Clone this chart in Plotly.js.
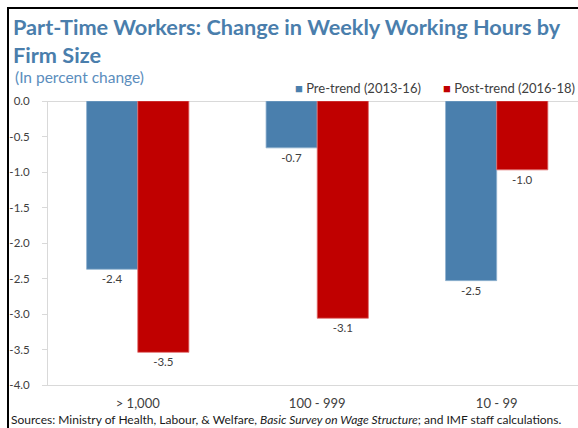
<!DOCTYPE html>
<html>
<head>
<meta charset="utf-8">
<script src="https://cdn.plot.ly/plotly-3.0.1.min.js"></script>
<style>
  html, body { margin: 0; padding: 0; background: #fff; overflow: hidden; }
  #wrap { position: relative; width: 578px; height: 428px; overflow: hidden; }
  #chart { position: absolute; left: 0; top: 0; width: 578px; height: 428px; }
  #frame { position: absolute; left: 7px; top: 7px; width: 700px; height: 600px;
           border-left: 2px solid #000; border-top: 2px solid #000; pointer-events: none; }
</style>
</head>
<body>
<div id="wrap">
  <div id="chart"></div>
  <div id="frame"></div>
</div>
<script>
// ---- data ----
const categories = ["> 1,000", "100 - 999", "10 - 99"];
const seriesNames = ["Pre-trend (2013-16)", "Post-trend (2016-18)"];
const preTrend  = [-2.37, -0.66, -2.53];
const postTrend = [-3.54, -3.06, -0.97];
const yTickVals = [0, -0.5, -1, -1.5, -2, -2.5, -3, -3.5, -4];
const yTickText = ["0.0", "-0.5", "-1.0", "-1.5", "-2.0", "-2.5", "-3.0", "-3.5", "-4.0"];
const titleText = "Part-Time Workers: Change in Weekly Working Hours by<br>Firm Size";
const subtitleText = "(In percent change)";
const sourceText = "Sources: Ministry of Health, Labour, &amp; Welfare, <i>Basic Survey on Wage Structure</i>; and IMF staff calculations.";

// ---- styles ----
const colors = ["#4a7fad", "#c00000"];
const lineColors = ["#8fb1cf", "#e07070"];
const FONT = "Lato, 'Open Sans', sans-serif";
const textGray = "#404040";
const axisGray = "#d9d9d9";

const idx = categories.map((c, i) => i);

const traces = [preTrend, postTrend].map((vals, k) => ({
  type: "bar",
  name: seriesNames[k],
  x: idx,
  y: vals,
  marker: { color: colors[k], line: { color: lineColors[k], width: 0.8 } },
  texttemplate: "%{y:.1f}",
  textposition: "outside",
  textfont: { family: FONT, size: 11.5, color: textGray },
  cliponaxis: false,
  hoverinfo: "skip",
  showlegend: false
}));

const legendX = [0.462, 0.741];
const legendAnnotations = seriesNames.map((n, k) => ({
  xref: "paper", yref: "paper",
  x: legendX[k], y: 1.045,
  xanchor: "left", yanchor: "middle",
  showarrow: false,
  text: "<span style='color:" + colors[k] + "'>■</span> " + n,
  font: { family: FONT, size: 13, color: textGray }
}));

const layout = {
  width: 578, height: 428,
  margin: { l: 48, r: 0, t: 101, b: 43 },
  paper_bgcolor: "#fff",
  plot_bgcolor: "#fff",
  barmode: "group",
  bargap: 0.43,
  bargroupgap: 0,
  showlegend: false,
  title: {
    text: "<b>" + titleText + "</b>",
    xref: "container", yref: "container",
    x: 13 / 578, xanchor: "left",
    y: 1 - 35 / 428, yanchor: "top",
    font: { family: FONT, size: 21.7, color: "#4a7eac" }
  },
  xaxis: {
    range: [-0.5, 2.453],
    tickmode: "array",
    tickvals: idx,
    ticktext: categories,
    ticks: "",
    showgrid: false,
    zeroline: false,
    showline: true,
    linecolor: axisGray,
    linewidth: 1,
    tickfont: { family: FONT, size: 13, color: textGray },
    ticklabelstandoff: 6,
    fixedrange: true
  },
  yaxis: {
    range: [-4, 0],
    tickmode: "array",
    tickvals: yTickVals,
    ticktext: yTickText,
    ticks: "outside",
    ticklen: 5,
    tickcolor: axisGray,
    showgrid: false,
    zeroline: true,
    zerolinecolor: axisGray,
    zerolinewidth: 1,
    showline: true,
    linecolor: axisGray,
    linewidth: 1,
    tickfont: { family: FONT, size: 11.5, color: textGray },
    ticklabelstandoff: 10,
    fixedrange: true
  },
  annotations: [
    {
      xref: "paper", yref: "paper",
      x: -0.066, y: 1.083,
      xanchor: "left", yanchor: "middle",
      showarrow: false,
      text: subtitleText,
      font: { family: FONT, size: 15.5, color: "#5b8dbd" }
    },
    {
      xref: "paper", yref: "paper",
      x: -0.073, y: -0.1205,
      xanchor: "left", yanchor: "middle",
      showarrow: false,
      text: sourceText,
      font: { family: FONT, size: 12, color: "#1a1a1a" }
    }
  ].concat(legendAnnotations)
};

Plotly.newPlot("chart", traces, layout, { displayModeBar: false, staticPlot: true });
</script>
</body>
</html>
